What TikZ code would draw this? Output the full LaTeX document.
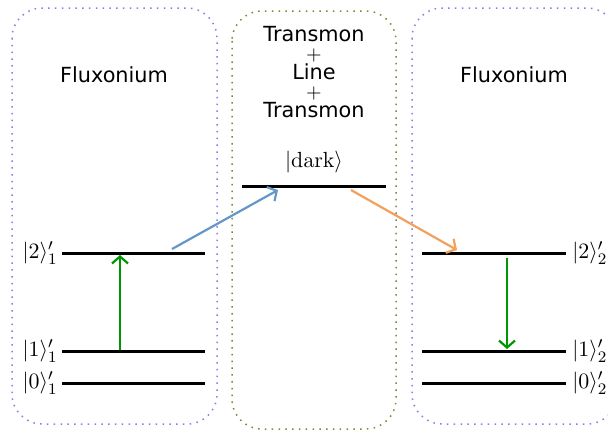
\documentclass[tikz,border=0pt]{standalone}
\usepackage[no-math]{fontspec}
\setmainfont{DejaVu Sans}
\usetikzlibrary{arrows.meta,calc}

\definecolor{fluxblue}{RGB}{128,128,232}
\definecolor{tlolive}{RGB}{112,140,48}
\definecolor{drivblue}{RGB}{100,150,200}
\definecolor{emorange}{RGB}{242,160,90}
\definecolor{transgreen}{RGB}{0,150,0}

\tikzset{
  qubitbox/.style={rounded corners=15pt,line width=0.75pt,dash pattern=on 0.75pt off 2.65pt},
  level/.style={line width=1.5pt},
  transition/.style={-{Straight Barb[length=3.5pt,width=8pt]},line width=1.1pt},
  title/.style={font=\fontsize{10.4}{9.5}\selectfont,align=center,inner sep=0pt},
  ket/.style={inner sep=0pt,font=\fontsize{11}{12}\selectfont}
}

\begin{document}
\begin{tikzpicture}[x=0.5pt,y=-0.5pt]
\useasboundingbox (0,0) rectangle (608,430);
\clip (0,0) rectangle (608,430);

% enclosures
\draw[qubitbox,fluxblue] (12,8) rectangle (217,424);
\draw[qubitbox,tlolive] (232,11) rectangle (396,429);
\draw[qubitbox,fluxblue] (412,8) rectangle (617,424);

\node[title] (fluxA) at (114,75) {Fluxonium};
\node[title] (fluxB) at (514,75) {Fluxonium};
\node[title] (bus) at (314,72) {Transmon\\$+$\\Line\\$+$\\Transmon};

% energy levels
\foreach \name/\y in {2/253,1/351,0/383}{
  \coordinate (a\name l) at (62,\y);
  \coordinate (a\name r) at (205,\y);
  \coordinate (b\name l) at (422,\y);
  \coordinate (b\name r) at (566,\y);
  \draw[level] (a\name l) -- (a\name r);
  \draw[level] (b\name l) -- (b\name r);
  \node[ket,anchor=east,xshift=-2pt] (ka\name) at (a\name l) {$|\name\rangle_1'$};
  \node[ket,anchor=west,xshift=3pt] (kb\name) at (b\name r) {$|\name\rangle_2'$};
}
\coordinate (dl) at (242,186);
\coordinate (dr) at (386,186);
\draw[level] (dl) -- (dr);
\node[ket] (dark) at (314,162) {$|\mathrm{dark}\rangle$};

% transitions
\coordinate (absorb) at (120,350);
\coordinate (emit) at (507,258);
\draw[transition,transgreen] (absorb) -- ($(absorb |- a2l)+(0,2)$);
\draw[transition,transgreen] (emit) -- ($(emit |- b1l)+(0,-2)$);
\coordinate (drvS) at (172,249);
\coordinate (drvE) at (278,190);
\coordinate (relS) at (351,190);
\coordinate (relE) at (457,250);
\draw[transition,drivblue] (drvS) -- (drvE);
\draw[transition,emorange] (relS) -- (relE);
\end{tikzpicture}
\end{document}
